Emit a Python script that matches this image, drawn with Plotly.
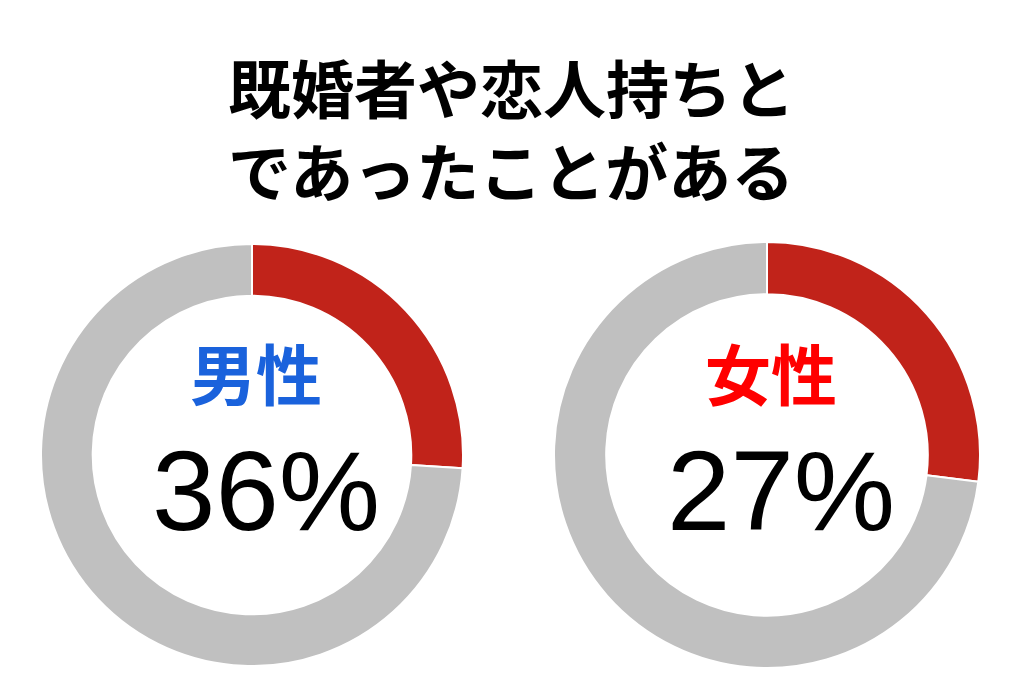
import plotly.graph_objects as go

# chart data
groups = ["男性", "女性"]
group_colors = ["#1a62dc", "#ff0000"]
pct_labels = ["36%", "27%"]
arc_share = [26, 27]  # share of the ring painted red, as drawn
slice_names = ["あり", "なし"]
title_lines = ["既婚者や恋人持ちと", "であったことがある"]

W, H = 1024, 683
OFF = 8  # page body margin around the plot div
ring_colors = ["#c1231a", "#c0c0c0"]

# donut centres and radii in pixels (top-left origin of the page)
centres = [(252, 455, 211), (767, 455, 213)]


def px(x):
    return (x - OFF) / W


def py(y):
    return 1 - (y - OFF) / H


fig = go.Figure()
for i, name in enumerate(groups):
    cx, cy, r = centres[i]
    fig.add_trace(go.Pie(
        labels=slice_names,
        values=[arc_share[i], 100 - arc_share[i]],
        hole=0.755,
        sort=False,
        direction="clockwise",
        rotation=0,
        textinfo="none",
        hoverinfo="label+percent",
        showlegend=False,
        marker=dict(colors=ring_colors, line=dict(color="white", width=2)),
        domain=dict(x=[px(cx - r), px(cx + r)], y=[py(cy + r), py(cy - r)]),
        name=name,
    ))
    # group label and percentage in the hole
    fig.add_annotation(x=px(cx + 4), y=py(371), xref="paper", yref="paper",
                       xanchor="center", yanchor="middle",
                       text="<b>" + name + "</b>", showarrow=False,
                       font=dict(family="Noto Sans CJK JP", size=66, color=group_colors[i]))
    fig.add_annotation(x=px(cx + 14), y=py(490), xref="paper", yref="paper",
                       xanchor="center", yanchor="middle",
                       text=pct_labels[i], showarrow=False,
                       font=dict(family="Liberation Sans", size=114, color="black"))

# two-line title
for j, line in enumerate(title_lines):
    fig.add_annotation(x=px(511), y=py(86 + 82 * j), xref="paper", yref="paper",
                       xanchor="center", yanchor="middle",
                       text="<b>" + line + "</b>", showarrow=False,
                       font=dict(family="Noto Sans CJK JP", size=63, color="black"))

fig.update_layout(
    width=W, height=H,
    margin=dict(l=0, r=0, t=0, b=0),
    paper_bgcolor="white",
    plot_bgcolor="white",
)

fig.write_html("out.html")
